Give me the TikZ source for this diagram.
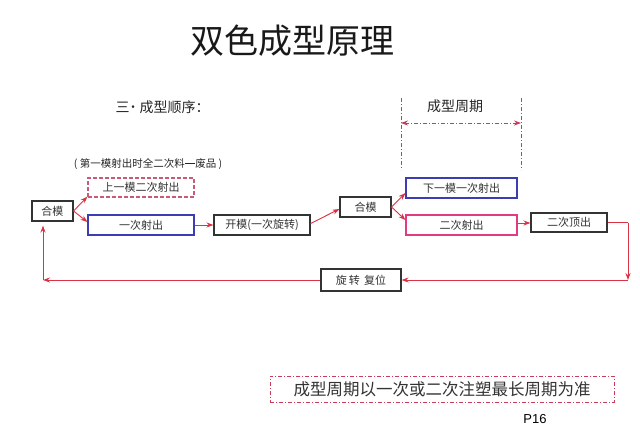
\documentclass[tikz,border=0pt]{standalone}
\usepackage{fontspec}
\setmainfont{Noto Sans CJK SC}
\newfontfamily\latinsans{Liberation Sans}
\usetikzlibrary{arrows.meta,calc}
\definecolor{redline}{RGB}{220,50,70}
\definecolor{boxblue}{RGB}{60,60,180}
\definecolor{boxpink}{RGB}{225,60,130}
\definecolor{dashpink}{RGB}{200,90,120}
\definecolor{ddred}{RGB}{200,60,90}
\tikzset{
  box/.style={draw=black!80,line width=1.1pt,inner sep=0pt,font=\fontsize{11}{13}\selectfont,text=black!80},
  bluebox/.style={box,draw=boxblue},
  pinkbox/.style={box,draw=boxpink},
  dashbox/.style={box,draw=dashpink,dash pattern=on 4pt off 2pt},
  tip/.tip={Stealth[length=7pt,width=5pt]},
  conn/.style={draw=redline,line width=0.9pt,-tip},
  plain/.style={draw=redline,line width=0.9pt},
  ddline/.style={draw=ddred,line width=0.8pt,dash pattern=on 4pt off 2pt on 1pt off 2pt},
}
\begin{document}
\begin{tikzpicture}[x=1pt,y=-1pt]
\useasboundingbox[fill=white] (0,0) rectangle (640,439);
% title and headings
\node[font=\fontsize{34}{38}\selectfont,text=black!90] (title) at (292,41) {双色成型原理};
\node[anchor=west,font=\fontsize{14}{16}\selectfont,text=black!85] (seq) at (112,107) {三˙ 成型顺序：};
\node[font=\fontsize{10.5}{12}\selectfont,text=black!85] (waste) at (148,164) {( 第一模射出时全二次料\rule[0.33em]{1em}{0.9pt}废品 )};
\node[font=\fontsize{14}{16}\selectfont,text=black!85] (cyc) at (455,106) {成型周期};
% cycle bracket
\coordinate (clt) at (401,98);
\coordinate (clb) at (401,170);
\coordinate (crt) at (521,98);
\coordinate (crb) at (521,170);
\draw[ddline] (clt) -- (clb);
\draw[ddline] (crt) -- (crb);
\coordinate (cal) at (401,123);
\coordinate (car) at (521,123);
\draw[ddline,tip-tip] (cal) -- (car);
% boxes
\node[box,minimum width=41pt,minimum height=20pt] (hm1) at (52.5,211) {合模};
\node[dashbox,minimum width=106pt,minimum height=19pt] (sy) at (141,187.5) {上一模二次射出};
\node[bluebox,minimum width=106pt,minimum height=20pt] (yc) at (141,225) {一次射出};
\node[box,minimum width=96pt,minimum height=20pt] (km) at (262,225) {开模(一次旋转)};
\node[box,minimum width=51pt,minimum height=20pt] (hm2) at (365.5,207) {合模};
\node[bluebox,minimum width=111pt,minimum height=20pt] (xy) at (461.5,188) {下一模一次射出};
\node[pinkbox,minimum width=111pt,minimum height=20pt] (ec) at (461.5,225) {二次射出};
\node[box,minimum width=76pt,minimum height=19pt] (ed) at (569,222.5) {二次顶出};
\node[box,minimum width=80pt,minimum height=22pt] (xz) at (361,280) {旋\,转\, 复位};
\node[draw=ddred,line width=0.8pt,dash pattern=on 4pt off 2pt on 1pt off 2pt,minimum width=344pt,minimum height=26pt,inner sep=0pt,font=\fontsize{16.5}{18}\selectfont,text=black!80] (note) at (442,389) {成型周期以一次或二次注塑最长周期为准};
\node[font=\latinsans\fontsize{13}{15}\selectfont] (page) at (535,419) {P16};
% connectors
\draw[conn] (hm1.east) -- ([yshift=1pt]sy.south west);
\draw[conn] (hm1.east) -- ([yshift=3pt]yc.west);
\draw[conn] (yc.east) -- (km.west);
\draw[conn] ([yshift=1.5pt]km.east) -- ([yshift=-2pt]hm2.west);
\draw[conn] (hm2.east) -- ([yshift=-5pt]xy.west);
\draw[conn] (hm2.east) -- ([yshift=5pt]ec.west);
\draw[conn] ([yshift=2pt]ec.east) -- ([yshift=2pt]ec.east -| ed.west);
\coordinate (rt) at (628,222.5);
\coordinate (rb) at (628,280);
\coordinate (lb) at (43,280);
\draw[plain] (ed.east) -- (rt);
\draw[conn] (rt) -- (rb);
\draw[conn] (rb) -- (xz.east);
\draw[conn] (xz.west) -- (lb);
\draw[conn,shorten >=4pt] (lb) -- (lb |- hm1.south);
\end{tikzpicture}
\end{document}
